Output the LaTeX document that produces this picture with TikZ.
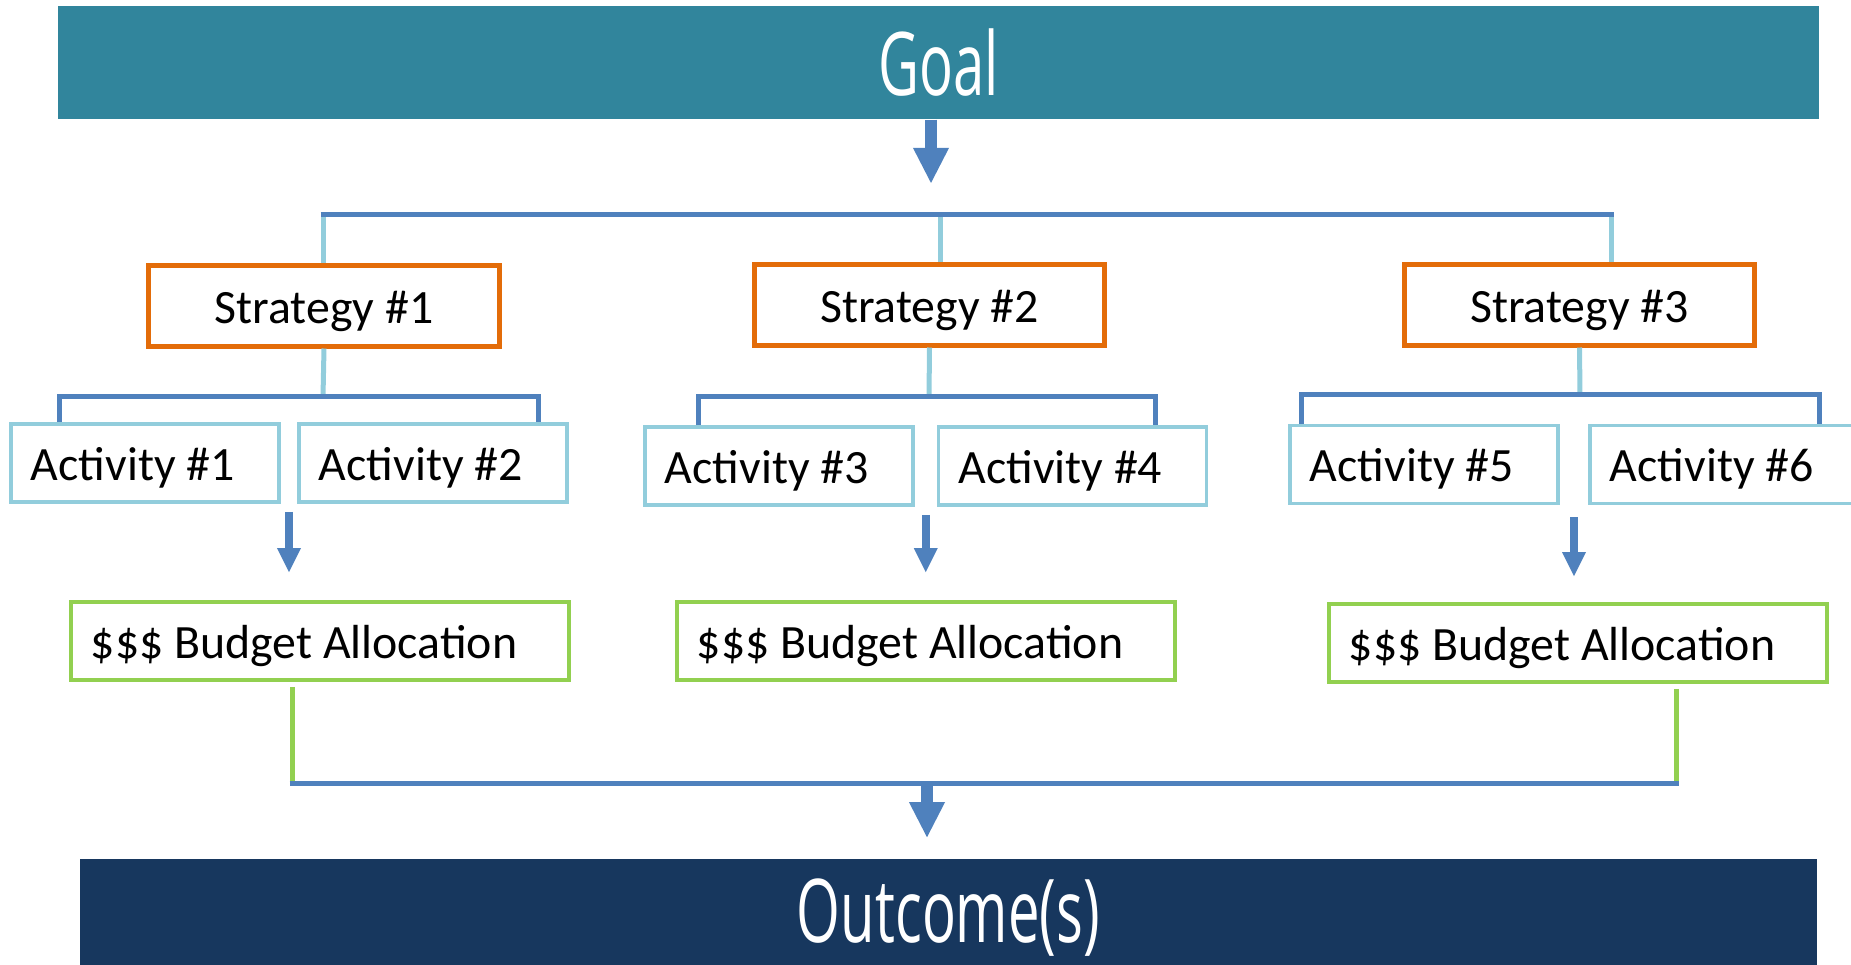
\documentclass[tikz,border=0pt]{standalone}
\usepackage{graphicx}
\usepackage{fontspec}
\setmainfont{Carlito}
\newfontfamily\titlefont{Open Sans}
\usetikzlibrary{arrows.meta, calc}
\definecolor{goalteal}{HTML}{31859C}
\definecolor{navy}{HTML}{17375E}
\definecolor{linkblue}{HTML}{4F81BD}
\definecolor{skyblue}{HTML}{92CDDC}
\definecolor{stratorange}{HTML}{E36C09}
\definecolor{leafgreen}{HTML}{92D050}

\begin{document}
\begin{tikzpicture}[x=0.01cm, y=-0.01cm,
  bar/.style={rectangle, text=white, inner sep=0pt,
    font=\titlefont\fontsize{25}{30}\selectfont},
  strat/.style={rectangle, draw=stratorange, line width=0.05cm, fill=white,
    minimum width=3.5cm, minimum height=0.8cm, inner sep=0pt,
    text height=0.35cm, text depth=0pt, font=\fontsize{13.6}{16}\selectfont},
  act/.style={rectangle, draw=skyblue, line width=0.035cm, minimum height=0.78cm,
    text width=2.28cm, inner xsep=0.2cm, inner ysep=0pt, align=flush left,
    text height=0.35cm, text depth=0pt, font=\fontsize{13.6}{16}\selectfont},
  budget/.style={act, draw=leafgreen, text width=4.58cm},
  bus/.style={linkblue, line width=0.05cm},
  drop/.style={skyblue, line width=0.05cm},
  feed/.style={leafgreen, line width=0.05cm},
  bigarr/.style={linkblue, line width=0.12cm,
    -{Triangle[width=0.36cm, length=0.35cm, line width=0pt]}},
  arr/.style={linkblue, line width=0.08cm,
    -{Triangle[width=0.24cm, length=0.24cm, line width=0pt]}},
]
  \clip (0,0) rectangle (1851,965);

  % top and bottom bars
  \node[bar, fill=goalteal, minimum width=17.59cm, minimum height=1.13cm]
    (goal) at (938.5,62.5) {\scalebox{0.64}[1]{Goal}};
  \node[bar, fill=navy, minimum width=17.35cm, minimum height=1.12cm, text depth=0.08cm]
    (outcome) at (948.5,915) {\scalebox{0.64}[1]{Outcome(s)}};

  % strategies
  \node[strat] (s1) at (324,306) {Strategy \#1};
  \node[strat] (s2) at (929.5,305) {Strategy \#2};
  \node[strat] (s3) at (1579.5,305) {Strategy \#3};

  % activities
  \node[act] (a1) at (145,463) {Activity \#1};
  \node[act] (a2) at (433,463) {Activity \#2};
  \node[act] (a3) at (779,466) {Activity \#3};
  \node[act] (a4) at (1072.5,466) {Activity \#4};
  \node[act] (a5) at (1424,464.5) {Activity \#5};
  \node[act] (a6) at (1724,464.5) {Activity \#6};

  % budgets
  \node[budget] (bud1) at (320,641) {\$\$\$ Budget Allocation};
  \node[budget] (bud2) at (926,641) {\$\$\$ Budget Allocation};
  \node[budget] (bud3) at (1578,643) {\$\$\$ Budget Allocation};

  % goal to strategies
  \coordinate (t0) at (931,215);
  \coordinate (d1) at (323,215);
  \coordinate (d2) at (940,215);
  \coordinate (d3) at (1611,215);
  \draw[bigarr] (t0 |- goal.south) -- ([yshift=0.32cm]t0);
  \draw[drop] (d1) -- (d1 |- s1.north);
  \draw[drop] (d2) -- (d2 |- s2.north);
  \draw[drop] (d3) -- (d3 |- s3.north);
  \draw[bus] ([xshift=-0.025cm]d1) -- ([xshift=0.025cm]d3);

  % strategies to activities
  \coordinate (b1) at (323,397);
  \coordinate (b2) at (929,397);
  \coordinate (b3) at (1580,395);
  \draw[drop] (s1.south) -- (b1);
  \draw[drop] (s2.south) -- (b2);
  \draw[drop] (s3.south) -- (b3);
  \draw[bus] ([xshift=0.5cm]a1.north west) |- (b1) -| ([xshift=-0.3cm]a2.north east);
  \draw[bus] ([xshift=0.55cm]a3.north west) |- (b2) -| ([xshift=-0.53cm]a4.north east);
  \draw[bus] ([xshift=0.13cm]a5.north west) |- (b3) -| ([xshift=-0.4cm]a6.north east);

  % activities to budgets
  \coordinate (g1) at ($(a1.south east)!.5!(a2.south west)$);
  \coordinate (g2) at ($(a3.south east)!.5!(a4.south west)$);
  \coordinate (g3) at ($(a5.south east)!.5!(a6.south west)$);
  \draw[arr] ([yshift=-0.08cm]g1) -- ([yshift=0.28cm]g1 |- bud1.north);
  \draw[arr] ([yshift=-0.08cm]g2) -- ([yshift=0.28cm]g2 |- bud2.north);
  \draw[arr] ([yshift=-0.12cm]g3) -- ([yshift=0.26cm]g3 |- bud3.north);

  % budgets to outcome
  \coordinate (j1) at (292,784);
  \coordinate (j2) at (927,784);
  \coordinate (j3) at (1676,784);
  \draw[feed] ([yshift=-0.05cm]j1 |- bud1.south) -- (j1);
  \draw[feed] ([yshift=-0.05cm]j3 |- bud3.south) -- (j3);
  \draw[bus] ([xshift=-0.025cm]j1) -- ([xshift=0.025cm]j3);
  \draw[bigarr] (j2) -- ([yshift=0.21cm]j2 |- outcome.north);
\end{tikzpicture}
\end{document}
